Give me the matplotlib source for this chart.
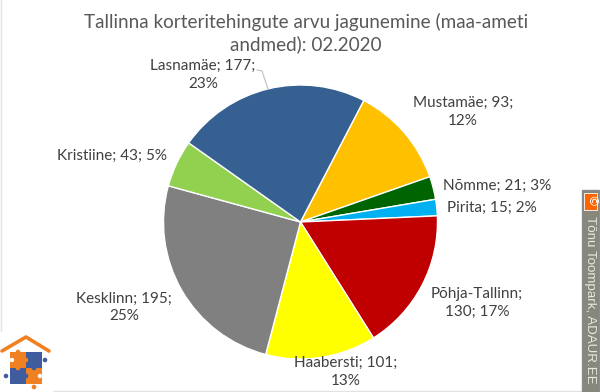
"""Tallinn apartment transactions pie, 02.2020."""

import matplotlib
matplotlib.use("Agg")
import matplotlib.pyplot as plt
from matplotlib.patches import Circle, Rectangle

DISTRICTS = ["Mustamäe", "Nõmme", "Pirita", "Põhja-Tallinn", "Haabersti",
             "Kesklinn", "Kristiine", "Lasnamäe"]
COUNTS = [93, 21, 15, 130, 101, 195, 43, 177]
PERCENTS = [12, 3, 2, 17, 13, 25, 5, 23]
COLORS = ["#FFC000", "#006400", "#00B0F0", "#C00000", "#FFFF00",
          "#808080", "#92D050", "#356091"]
TITLE = "Tallinna korteritehingute arvu jagunemine (maa-ameti\nandmed): 02.2020"
CREDIT = "Tõnu Toompark, ADAUR.EE"

# label centre in pixels, and which separator wraps
LABEL_POS = [(463, 112), (497, 186), (492, 208), (477, 303),
             (346, 372), (124, 307.5), (112, 156), (203, 75)]
LABEL_SEPS = [(" ", "\n"), (" ", " "), (" ", " "), ("\n", " "),
              (" ", "\n"), (" ", "\n"), (" ", " "), (" ", "\n")]

TEXT_COLOR = "#404040"
plt.rcParams["font.family"] = ["Lato", "DejaVu Sans"]

fig = plt.figure(figsize=(6, 3.92), dpi=100)
ax = fig.add_axes([0, 0, 1, 1])

ax.pie(COUNTS, colors=COLORS, startangle=62.5, counterclock=False,
       center=(300.5, -222), radius=137,
       wedgeprops=dict(linewidth=1, edgecolor="white"))
ax.set_xlim(0, 600)
ax.set_ylim(-392, 0)
ax.set_aspect("equal")
ax.axis("off")

# chart frame
ax.plot([1, 1, 600], [0, -391, -391], color="#E2E2E2", lw=1, clip_on=False)

ax.text(306, -33, TITLE, ha="center", va="center", fontsize=13.6,
        color="#595959", linespacing=1.25)

for name, n, pct, (x, y), (sep1, sep2) in zip(DISTRICTS, COUNTS, PERCENTS, LABEL_POS, LABEL_SEPS):
    ax.text(x, -y, f"{name};{sep1}{n};{sep2}{pct}%", ha="center", va="center",
            fontsize=11, color=TEXT_COLOR, linespacing=1.35)

# leader line for Lasnamäe
ax.plot([257, 262, 268], [-70, -71, -89], color="#BFBFBF", lw=0.8)

# logo
ax.add_patch(Rectangle((0, -392), 52, 60, color="white", zorder=3))
ax.plot([2, 26, 49], [-351, -337, -351], color="#F08122", lw=2.6,
        solid_capstyle="round", zorder=4)
for x0, y0, c in [(10, -368, "#F08122"), (26, -368, "#3F5C9E"),
                  (10, -384, "#3F5C9E"), (26, -384, "#F08122")]:
    ax.add_patch(Rectangle((x0, y0), 16, 16, color=c, lw=0, zorder=4))
for x0, y0, c in [(18, -352, "#F08122"), (45, -360, "#3F5C9E"), (6, -376, "#3F5C9E"),
                  (34, -387, "#F08122"), (26, -360, "#F08122"), (26, -376, "#3F5C9E"),
                  (34, -368, "#3F5C9E"), (18, -368, "#F08122")]:
    ax.add_patch(Circle((x0, y0), 2.3, color=c, lw=0, zorder=5))
for x0, y0 in [(12, -360), (40, -376)]:
    ax.add_patch(Circle((x0, y0), 2.2, color="white", lw=0, zorder=5))

# copyright strip
ax.add_patch(Rectangle((582, -391.5), 16.5, 201.5, facecolor="#87877B",
                       edgecolor="#8C8C8C", lw=1, zorder=3))
ax.add_patch(Rectangle((584, -210), 13, 17, facecolor="#FF6600", edgecolor="white",
                       lw=0.6, zorder=4))
ax.text(590.5, -201.5, "©", rotation=270, ha="center", va="center", color="white",
        fontsize=9, family="DejaVu Sans", zorder=5)
ax.text(590.5, -300, CREDIT, rotation=270, ha="center", va="center", color="#E8E8E4",
        fontsize=9.6, family="Liberation Sans", zorder=5)

fig.savefig("out.png", dpi=100)
plt.close()
